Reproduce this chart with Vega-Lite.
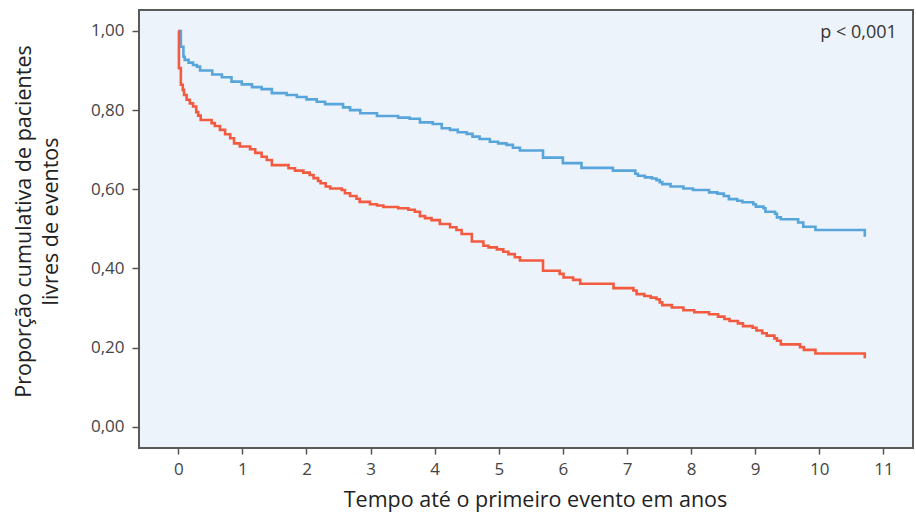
{
  "$schema": "https://vega.github.io/schema/vega-lite/v6.json",
  "autosize": "none",
  "width": 774,
  "height": 438,
  "padding": {"left": 139, "top": 10, "right": 3, "bottom": 71},
  "background": "#ffffff",
  "config": {
    "font": "Open Sans",
    "view": {"fill": "#edf3fb", "stroke": "#5a5a5a", "strokeWidth": 2},
    "axis": {"grid": false, "domain": false, "tickColor": "#555555", "tickWidth": 1.5, "labelColor": "#444444", "labelFont": "Open Sans", "labelFontSize": 17, "titleFont": "Open Sans", "titleFontWeight": "normal", "titleColor": "#222222", "titleFontSize": 21.5}
  },
  "datasets": {
    "km": [
      {"g": "A", "t": 0, "s": 1.0},
      {"g": "A", "t": 0.04, "s": 0.96},
      {"g": "A", "t": 0.08, "s": 0.935},
      {"g": "A", "t": 0.10, "s": 0.927},
      {"g": "A", "t": 0.16, "s": 0.92},
      {"g": "A", "t": 0.23, "s": 0.914},
      {"g": "A", "t": 0.29, "s": 0.91},
      {"g": "A", "t": 0.34, "s": 0.90},
      {"g": "A", "t": 0.53, "s": 0.89},
      {"g": "A", "t": 0.68, "s": 0.883},
      {"g": "A", "t": 0.83, "s": 0.872},
      {"g": "A", "t": 0.99, "s": 0.865},
      {"g": "A", "t": 1.15, "s": 0.858},
      {"g": "A", "t": 1.30, "s": 0.853},
      {"g": "A", "t": 1.46, "s": 0.843},
      {"g": "A", "t": 1.69, "s": 0.838},
      {"g": "A", "t": 1.85, "s": 0.833},
      {"g": "A", "t": 2.00, "s": 0.827},
      {"g": "A", "t": 2.16, "s": 0.821},
      {"g": "A", "t": 2.29, "s": 0.815},
      {"g": "A", "t": 2.57, "s": 0.807},
      {"g": "A", "t": 2.68, "s": 0.80},
      {"g": "A", "t": 2.84, "s": 0.792},
      {"g": "A", "t": 3.10, "s": 0.785},
      {"g": "A", "t": 3.43, "s": 0.781},
      {"g": "A", "t": 3.61, "s": 0.778},
      {"g": "A", "t": 3.77, "s": 0.769},
      {"g": "A", "t": 3.97, "s": 0.765},
      {"g": "A", "t": 4.11, "s": 0.754},
      {"g": "A", "t": 4.24, "s": 0.75},
      {"g": "A", "t": 4.36, "s": 0.744},
      {"g": "A", "t": 4.50, "s": 0.74},
      {"g": "A", "t": 4.59, "s": 0.733},
      {"g": "A", "t": 4.70, "s": 0.727},
      {"g": "A", "t": 4.86, "s": 0.72},
      {"g": "A", "t": 4.99, "s": 0.716},
      {"g": "A", "t": 5.12, "s": 0.712},
      {"g": "A", "t": 5.22, "s": 0.705},
      {"g": "A", "t": 5.33, "s": 0.698},
      {"g": "A", "t": 5.69, "s": 0.68},
      {"g": "A", "t": 6.00, "s": 0.666},
      {"g": "A", "t": 6.29, "s": 0.654},
      {"g": "A", "t": 6.78, "s": 0.647},
      {"g": "A", "t": 7.13, "s": 0.639},
      {"g": "A", "t": 7.17, "s": 0.634},
      {"g": "A", "t": 7.28, "s": 0.63},
      {"g": "A", "t": 7.39, "s": 0.627},
      {"g": "A", "t": 7.46, "s": 0.623},
      {"g": "A", "t": 7.51, "s": 0.618},
      {"g": "A", "t": 7.55, "s": 0.613},
      {"g": "A", "t": 7.68, "s": 0.607},
      {"g": "A", "t": 7.88, "s": 0.602},
      {"g": "A", "t": 8.03, "s": 0.598},
      {"g": "A", "t": 8.28, "s": 0.592},
      {"g": "A", "t": 8.41, "s": 0.589},
      {"g": "A", "t": 8.51, "s": 0.583},
      {"g": "A", "t": 8.59, "s": 0.575},
      {"g": "A", "t": 8.72, "s": 0.571},
      {"g": "A", "t": 8.80, "s": 0.567},
      {"g": "A", "t": 8.97, "s": 0.562},
      {"g": "A", "t": 9.01, "s": 0.556},
      {"g": "A", "t": 9.13, "s": 0.552},
      {"g": "A", "t": 9.16, "s": 0.543},
      {"g": "A", "t": 9.31, "s": 0.538},
      {"g": "A", "t": 9.34, "s": 0.529},
      {"g": "A", "t": 9.40, "s": 0.524},
      {"g": "A", "t": 9.67, "s": 0.516},
      {"g": "A", "t": 9.75, "s": 0.505},
      {"g": "A", "t": 9.94, "s": 0.497},
      {"g": "A", "t": 10.71, "s": 0.48},
      {"g": "B", "t": 0, "s": 1.0},
      {"g": "B", "t": 0.01, "s": 0.906},
      {"g": "B", "t": 0.04, "s": 0.864},
      {"g": "B", "t": 0.07, "s": 0.851},
      {"g": "B", "t": 0.09, "s": 0.838},
      {"g": "B", "t": 0.13, "s": 0.826},
      {"g": "B", "t": 0.18, "s": 0.817},
      {"g": "B", "t": 0.23, "s": 0.809},
      {"g": "B", "t": 0.28, "s": 0.795},
      {"g": "B", "t": 0.31, "s": 0.786},
      {"g": "B", "t": 0.35, "s": 0.775},
      {"g": "B", "t": 0.52, "s": 0.767},
      {"g": "B", "t": 0.57, "s": 0.76},
      {"g": "B", "t": 0.65, "s": 0.75},
      {"g": "B", "t": 0.73, "s": 0.739},
      {"g": "B", "t": 0.81, "s": 0.729},
      {"g": "B", "t": 0.87, "s": 0.716},
      {"g": "B", "t": 0.96, "s": 0.708},
      {"g": "B", "t": 1.12, "s": 0.701},
      {"g": "B", "t": 1.20, "s": 0.692},
      {"g": "B", "t": 1.30, "s": 0.682},
      {"g": "B", "t": 1.38, "s": 0.674},
      {"g": "B", "t": 1.46, "s": 0.661},
      {"g": "B", "t": 1.72, "s": 0.653},
      {"g": "B", "t": 1.82, "s": 0.647},
      {"g": "B", "t": 1.95, "s": 0.642},
      {"g": "B", "t": 2.05, "s": 0.636},
      {"g": "B", "t": 2.11, "s": 0.628},
      {"g": "B", "t": 2.18, "s": 0.621},
      {"g": "B", "t": 2.22, "s": 0.615},
      {"g": "B", "t": 2.30, "s": 0.607},
      {"g": "B", "t": 2.37, "s": 0.602},
      {"g": "B", "t": 2.55, "s": 0.598},
      {"g": "B", "t": 2.60, "s": 0.59},
      {"g": "B", "t": 2.68, "s": 0.583},
      {"g": "B", "t": 2.78, "s": 0.576},
      {"g": "B", "t": 2.83, "s": 0.568},
      {"g": "B", "t": 2.99, "s": 0.562},
      {"g": "B", "t": 3.10, "s": 0.559},
      {"g": "B", "t": 3.20, "s": 0.555},
      {"g": "B", "t": 3.43, "s": 0.552},
      {"g": "B", "t": 3.59, "s": 0.548},
      {"g": "B", "t": 3.69, "s": 0.543},
      {"g": "B", "t": 3.77, "s": 0.532},
      {"g": "B", "t": 3.85, "s": 0.527},
      {"g": "B", "t": 3.95, "s": 0.522},
      {"g": "B", "t": 4.08, "s": 0.512},
      {"g": "B", "t": 4.24, "s": 0.504},
      {"g": "B", "t": 4.34, "s": 0.497},
      {"g": "B", "t": 4.42, "s": 0.487},
      {"g": "B", "t": 4.58, "s": 0.468},
      {"g": "B", "t": 4.76, "s": 0.457},
      {"g": "B", "t": 4.84, "s": 0.453},
      {"g": "B", "t": 4.97, "s": 0.448},
      {"g": "B", "t": 5.07, "s": 0.442},
      {"g": "B", "t": 5.15, "s": 0.436},
      {"g": "B", "t": 5.25, "s": 0.428},
      {"g": "B", "t": 5.33, "s": 0.42},
      {"g": "B", "t": 5.69, "s": 0.394},
      {"g": "B", "t": 5.95, "s": 0.386},
      {"g": "B", "t": 6.01, "s": 0.377},
      {"g": "B", "t": 6.16, "s": 0.371},
      {"g": "B", "t": 6.27, "s": 0.361},
      {"g": "B", "t": 6.79, "s": 0.35},
      {"g": "B", "t": 7.10, "s": 0.344},
      {"g": "B", "t": 7.15, "s": 0.335},
      {"g": "B", "t": 7.27, "s": 0.33},
      {"g": "B", "t": 7.37, "s": 0.326},
      {"g": "B", "t": 7.46, "s": 0.322},
      {"g": "B", "t": 7.51, "s": 0.314},
      {"g": "B", "t": 7.55, "s": 0.307},
      {"g": "B", "t": 7.70, "s": 0.301},
      {"g": "B", "t": 7.88, "s": 0.294},
      {"g": "B", "t": 8.05, "s": 0.289},
      {"g": "B", "t": 8.28, "s": 0.284},
      {"g": "B", "t": 8.42, "s": 0.278},
      {"g": "B", "t": 8.52, "s": 0.272},
      {"g": "B", "t": 8.60, "s": 0.267},
      {"g": "B", "t": 8.73, "s": 0.261},
      {"g": "B", "t": 8.81, "s": 0.254},
      {"g": "B", "t": 8.96, "s": 0.25},
      {"g": "B", "t": 9.02, "s": 0.243},
      {"g": "B", "t": 9.11, "s": 0.236},
      {"g": "B", "t": 9.18, "s": 0.23},
      {"g": "B", "t": 9.30, "s": 0.223},
      {"g": "B", "t": 9.34, "s": 0.217},
      {"g": "B", "t": 9.40, "s": 0.208},
      {"g": "B", "t": 9.70, "s": 0.201},
      {"g": "B", "t": 9.76, "s": 0.194},
      {"g": "B", "t": 9.94, "s": 0.185},
      {"g": "B", "t": 10.71, "s": 0.173}
    ],
    "note": [{"t": 11.21, "s": 0.995, "label": "p < 0,001"}]
  },
  "layer": [
    {
      "data": {"name": "km"},
      "mark": {"type": "line", "interpolate": "step-after", "strokeWidth": 2.6, "clip": true},
      "encoding": {
        "x": {"field": "t", "type": "quantitative", "scale": {"domain": [-0.613, 11.462], "nice": false, "zero": false},
          "axis": {"values": [0,1,2,3,4,5,6,7,8,9,10,11], "format": "d", "tickSize": 6, "labelPadding": 7, "title": "Tempo até o primeiro evento em anos", "titlePadding": 12, "titleX": 396}},
        "y": {"field": "s", "type": "quantitative", "scale": {"domain": [-0.054, 1.053], "nice": false, "zero": false},
          "axis": {"values": [0, 0.2, 0.4, 0.6, 0.8, 1.0], "tickSize": 7, "labelPadding": 8, "labelExpr": "replace(format(datum.value, '.2f'), '.', ',')", "title": ["Proporção cumulativa de pacientes", "livres de eventos"], "titlePadding": 28, "titleLineHeight": 27, "titleY": 211}},
        "color": {"field": "g", "type": "nominal", "scale": {"domain": ["A", "B"], "range": ["#58a5dc", "#f25b40"]}, "legend": null}
      }
    },
    {
      "data": {"name": "note"},
      "mark": {"type": "text", "align": "right", "baseline": "middle", "fontSize": 18, "color": "#333333", "font": "Open Sans"},
      "encoding": {
        "x": {"field": "t", "type": "quantitative"},
        "y": {"field": "s", "type": "quantitative"},
        "text": {"field": "label"}
      }
    }
  ]
}
